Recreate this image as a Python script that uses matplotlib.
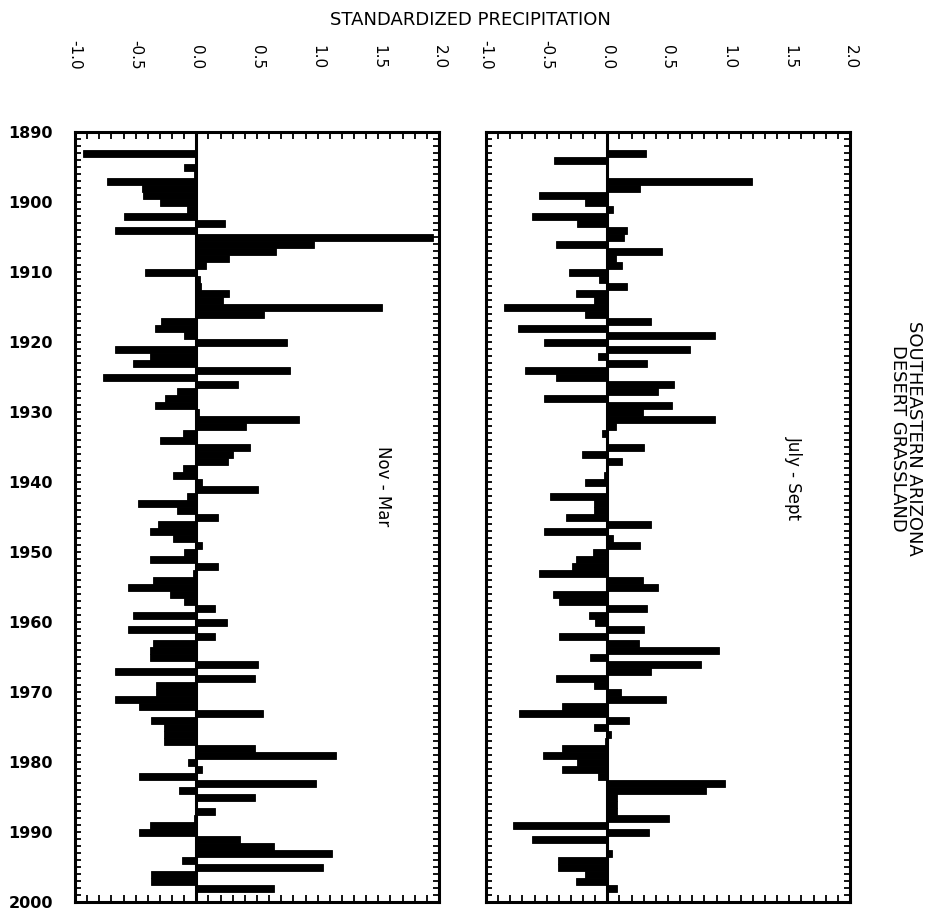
import numpy as np
import matplotlib
matplotlib.use("Agg")
import matplotlib.pyplot as plt
from matplotlib.ticker import MultipleLocator

# standardized precipitation, southeastern Arizona desert grassland
years = list(range(1890, 2000))

nov_mar = [
    0.00, 0.00, 0.00, -0.93, 0.00, -0.10, -0.02, -0.74, -0.45, -0.44,   # 1890s
    -0.30, -0.08, -0.60, 0.24, -0.67, 1.95, 0.97, 0.66, 0.27, 0.08,     # 1900s
    -0.42, 0.03, 0.04, 0.27, 0.22, 1.53, 0.56, -0.29, -0.34, -0.10,     # 1910s
    0.75, -0.67, -0.38, -0.52, 0.77, -0.77, 0.34, -0.16, -0.26, -0.34,  # 1920s
    0.02, 0.85, 0.41, -0.11, -0.30, 0.44, 0.30, 0.26, -0.11, -0.19,     # 1930s
    0.05, 0.51, -0.08, -0.48, -0.16, 0.18, -0.32, -0.38, -0.19, 0.05,   # 1940s
    -0.10, -0.38, 0.18, -0.03, -0.36, -0.56, -0.22, -0.10, 0.15, -0.52, # 1950s
    0.25, -0.56, 0.15, -0.36, -0.38, -0.38, 0.51, -0.67, 0.48, -0.33,   # 1960s
    -0.33, -0.67, -0.47, 0.55, -0.37, -0.27, -0.27, -0.27, 0.48, 1.15,  # 1970s
    -0.07, 0.05, -0.47, 0.99, -0.14, 0.48, 0.00, 0.15, -0.02, -0.38,    # 1980s
    -0.47, 0.36, 0.64, 1.12, -0.12, 1.04, -0.37, -0.37, 0.64, 0.00,     # 1990s
]

jul_sep = [
    0.00, 0.00, 0.00, 0.32, -0.44, 0.00, 0.00, 1.19, 0.27, -0.56,       # 1890s
    -0.18, 0.05, -0.62, -0.25, 0.16, 0.14, -0.42, 0.45, 0.07, 0.12,     # 1900s
    -0.32, -0.07, 0.16, -0.26, -0.11, -0.85, -0.18, 0.36, -0.74, 0.89,  # 1910s
    -0.52, 0.68, -0.08, 0.33, -0.68, -0.42, 0.55, 0.42, -0.52, 0.53,    # 1920s
    0.29, 0.89, 0.07, -0.04, 0.00, 0.30, -0.21, 0.12, -0.01, -0.03,     # 1930s
    -0.18, 0.00, -0.47, -0.11, -0.11, -0.34, 0.36, -0.52, 0.05, 0.27,   # 1940s
    -0.12, -0.26, -0.29, -0.56, 0.29, 0.42, -0.45, -0.40, 0.33, -0.15,  # 1950s
    -0.10, 0.30, -0.40, 0.26, 0.92, -0.14, 0.77, 0.36, -0.42, -0.11,    # 1960s
    0.11, 0.48, -0.37, -0.73, 0.18, -0.11, 0.03, -0.02, -0.37, -0.53,   # 1970s
    -0.25, -0.37, -0.08, 0.97, 0.81, 0.08, 0.08, 0.08, 0.51, -0.78,     # 1980s
    0.34, -0.62, 0.00, 0.04, -0.41, -0.41, -0.18, -0.26, 0.08, 0.00,    # 1990s
]

year_ticks = list(range(1890, 2001, 10))
x_ticks = [-1.0, -0.5, 0.0, 0.5, 1.0, 1.5, 2.0]

fig = plt.figure(figsize=(9.42, 9.14), dpi=100)

W, H = 942.0, 914.0
panels = [
    (75, nov_mar, "Nov - Mar", 0.54, True),
    (486, jul_sep, "July - Sept", 0.55, False),
]

for x0, vals, label, ly, show_years in panels:
    ax = fig.add_axes([x0 / W, 1 - 902 / H, 364 / W, 770 / H])
    ax.barh(years, vals, height=1.0, color='black', edgecolor='black', lw=0.6)
    ax.axvline(0, color='black', lw=2.2)
    ax.set_xlim(-1.0, 2.0)
    ax.set_ylim(2000, 1890)

    ax.set_xticks(x_ticks)
    ax.set_xticklabels([f"{t:.1f}" for t in x_ticks], rotation=-90,
                       fontsize=11, va='bottom')
    ax.xaxis.set_minor_locator(MultipleLocator(0.1))
    ax.yaxis.set_minor_locator(MultipleLocator(1))
    ax.tick_params(axis='x', which='both', top=True, bottom=True,
                   labeltop=True, labelbottom=False, direction='in',
                   length=5, width=1.3, pad=45)
    ax.tick_params(axis='y', which='both', left=True, right=True,
                   direction='in', length=4, width=1.3)
    ax.set_yticks(year_ticks)
    if show_years:
        ax.set_yticklabels([str(y) for y in year_ticks], fontsize=11.5,
                           fontweight='bold')
        ax.tick_params(axis='y', which='major', pad=16)
    else:
        ax.set_yticklabels([])
    for s in ax.spines.values():
        s.set_linewidth(2.2)

    ax.text(0.845, ly, label, transform=ax.transAxes, rotation=-90,
            ha='center', va='center', fontsize=12)

fig.text(470 / W, 1 - 20 / H, "STANDARDIZED PRECIPITATION", ha='center',
         va='center', fontsize=13)
fig.text(906 / W, 1 - 438 / H, "SOUTHEASTERN ARIZONA\nDESERT GRASSLAND",
         rotation=-90, ha='center', va='center', fontsize=13,
         linespacing=0.9, multialignment='center')

fig.savefig("out.png", dpi=100)
